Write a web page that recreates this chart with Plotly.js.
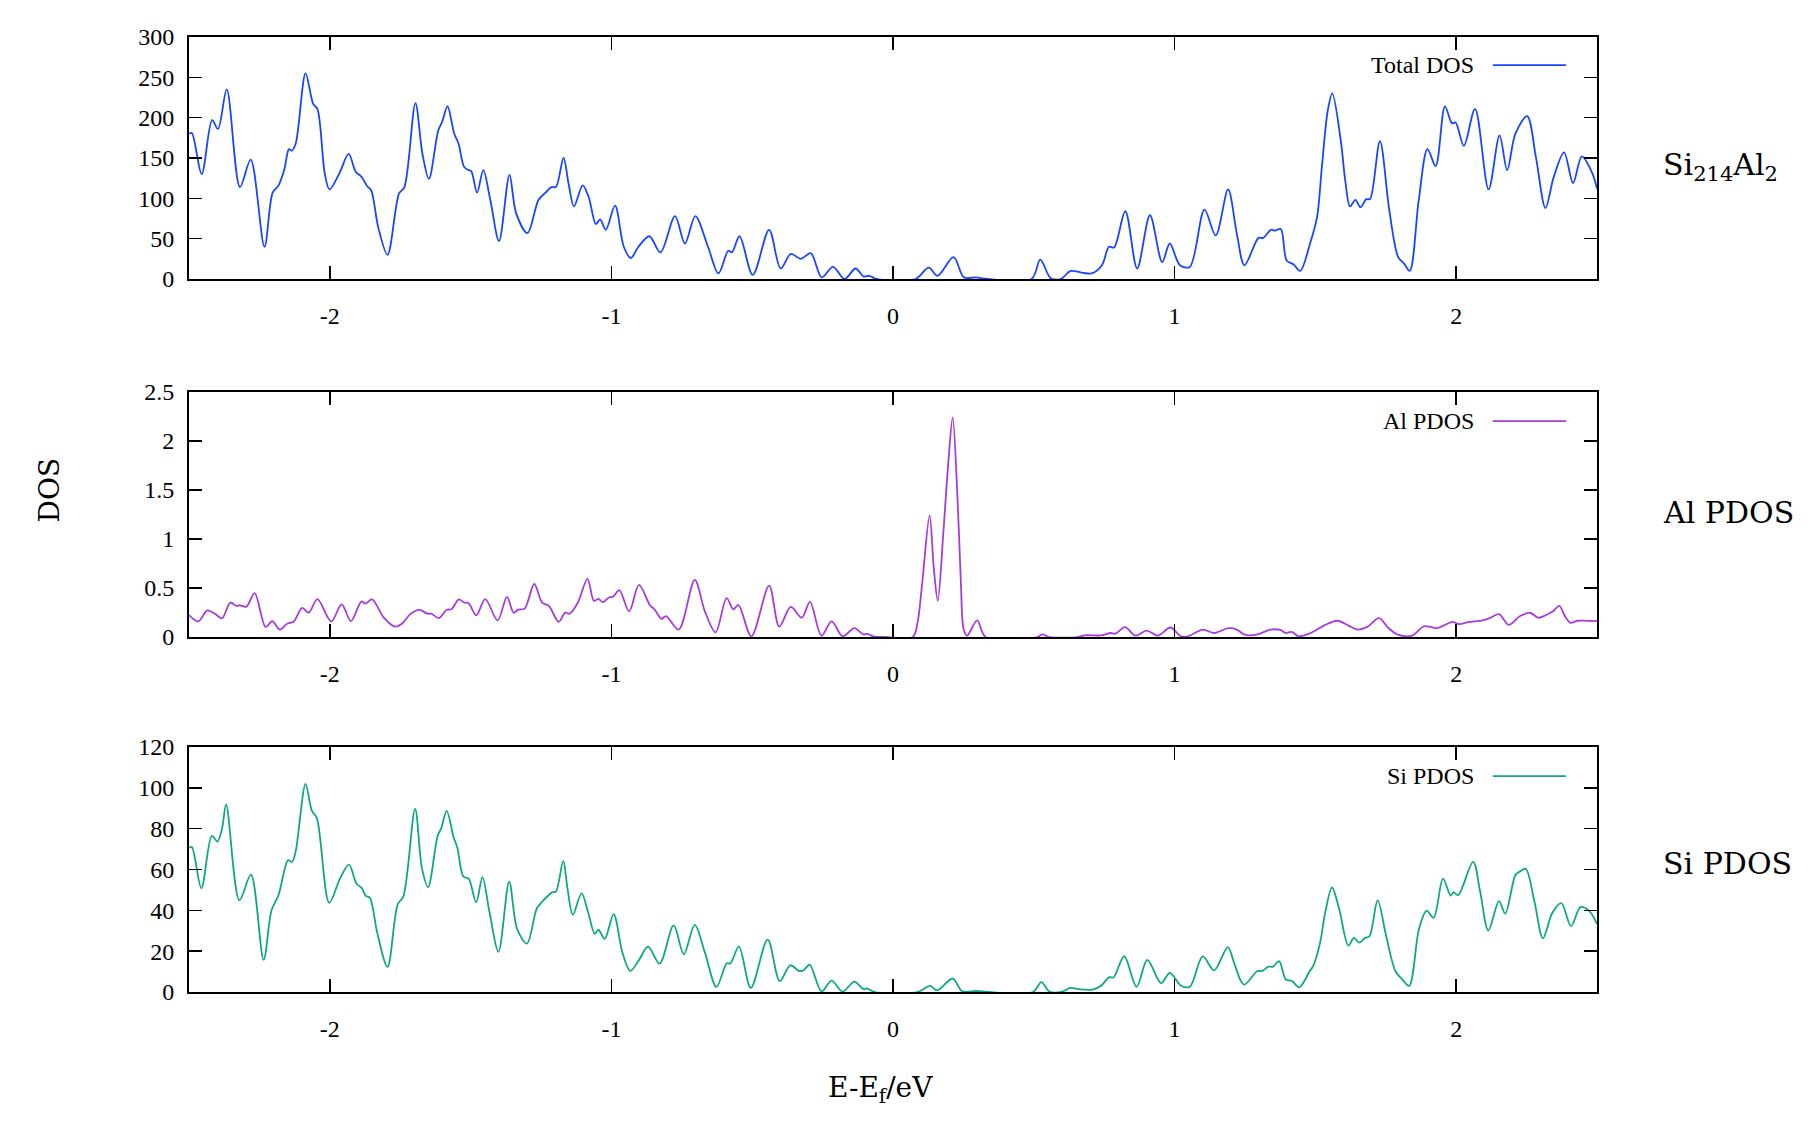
<!DOCTYPE html>
<html>
<head>
<meta charset="utf-8">
<script src="https://cdn.plot.ly/plotly-3.0.1.min.js"></script>
<style>
  html, body { margin: 0; padding: 0; background: #fff; }
  #chart { width: 1819px; height: 1127px; }
</style>
</head>
<body>
<div id="chart"></div>
<script>
// energies (eV, relative to Fermi level) and DOS values
const energyTotal = [-2.5,-2.49,-2.455,-2.418,-2.397,-2.366,-2.319,-2.281,-2.232,-2.203,-2.182,-2.162,-2.145,-2.135,-2.121,-2.086,-2.059,-2.044,-2.018,-2.001,-1.966,-1.933,-1.908,-1.888,-1.867,-1.853,-1.828,-1.795,-1.754,-1.735,-1.696,-1.671,-1.648,-1.615,-1.601,-1.582,-1.558,-1.543,-1.523,-1.508,-1.498,-1.477,-1.455,-1.43,-1.399,-1.362,-1.338,-1.298,-1.259,-1.234,-1.213,-1.197,-1.17,-1.152,-1.133,-1.102,-1.081,-1.055,-1.04,-1.02,-0.987,-0.956,-0.931,-0.904,-0.865,-0.826,-0.774,-0.739,-0.702,-0.657,-0.62,-0.585,-0.572,-0.545,-0.498,-0.44,-0.399,-0.363,-0.327,-0.292,-0.253,-0.213,-0.172,-0.133,-0.104,-0.084,-0.059,0.08,0.127,0.158,0.215,0.252,0.294,0.335,0.492,0.523,0.56,0.596,0.631,0.669,0.706,0.742,0.767,0.785,0.825,0.867,0.9125,0.956,0.983,1.019,1.054,1.106,1.146,1.19,1.221,1.248,1.298,1.315,1.342,1.356,1.377,1.398,1.423,1.446,1.481,1.506,1.523,1.544,1.56,1.59,1.606,1.623,1.642,1.66,1.681,1.694,1.729,1.7625,1.794,1.815,1.835,1.867,1.898,1.927,1.96,1.985,1.998,2.027,2.067,2.115,2.154,2.181,2.21,2.252,2.283,2.317,2.346,2.383,2.415,2.446,2.481,2.5];
const dosTotal = [180,181,130,197,186,235,114,148,40,107,116,135,161,159,168,255,217,211,131,111,131,155,133,127,115,110,64,30,106,114,218,155,124,184,195,214,180,168,139,135,134,107,135,98,47,129,81,57,98,107,114,114,150,118,90,116,102,68,74,61,91,40,26,40,53,33,78,44,78,40,7,35,33,53,5,61,13,31,25,32,2,15,0,13,3,4,0,0,14,4,27,2,2,0,0,24,1,0,10,8,7,17,40,39,84,13,79,21,44,17,15,86,54,111,56,17,51,51,61,60,62,23,18,10,44,77,139,209,230,172,122,90,98,89,99,99,171,85,27,19,10,98,161,140,214,193,194,165,211,111,178,135,180,202,151,88,126,157,119,152,133,112];

const energyAl = [-2.5,-2.467,-2.435,-2.405,-2.383,-2.353,-2.332,-2.321,-2.296,-2.267,-2.228,-2.204,-2.178,-2.15,-2.129,-2.098,-2.075,-2.044,-1.995,-1.958,-1.925,-1.888,-1.873,-1.85,-1.808,-1.77,-1.743,-1.715,-1.682,-1.653,-1.64,-1.612,-1.585,-1.568,-1.542,-1.523,-1.507,-1.48,-1.448,-1.404,-1.371,-1.347,-1.331,-1.308,-1.274,-1.246,-1.222,-1.187,-1.164,-1.148,-1.119,-1.085,-1.062,-1.046,-1.031,-1.01,-0.993,-0.972,-0.937,-0.902,-0.863,-0.847,-0.822,-0.806,-0.761,-0.704,-0.668,-0.63,-0.591,-0.567,-0.549,-0.503,-0.44,-0.404,-0.363,-0.324,-0.295,-0.254,-0.218,-0.179,-0.137,-0.106,-0.09,-0.07,-0.03,0.07,0.087,0.104,0.13,0.145,0.159,0.179,0.196,0.212,0.229,0.241,0.251,0.263,0.299,0.329,0.513,0.53,0.555,0.656,0.681,0.739,0.773,0.789,0.824,0.861,0.901,0.94,0.985,1.023,1.048,1.1,1.14,1.191,1.221,1.249,1.291,1.341,1.375,1.395,1.416,1.441,1.483,1.533,1.579,1.617,1.65,1.684,1.726,1.759,1.793,1.843,1.885,1.91,1.931,1.96,1.987,2.01,2.043,2.094,2.119,2.152,2.187,2.227,2.264,2.291,2.311,2.344,2.366,2.386,2.406,2.431,2.5];
const dosAl = [0.224,0.159,0.272,0.231,0.19,0.352,0.317,0.324,0.31,0.448,0.103,0.162,0.076,0.138,0.155,0.297,0.248,0.386,0.159,0.334,0.162,0.362,0.341,0.383,0.197,0.107,0.138,0.231,0.276,0.238,0.238,0.193,0.279,0.283,0.383,0.352,0.345,0.221,0.386,0.169,0.41,0.248,0.279,0.29,0.541,0.352,0.317,0.155,0.248,0.238,0.352,0.593,0.369,0.39,0.355,0.4,0.414,0.479,0.262,0.531,0.324,0.283,0.186,0.214,0.076,0.583,0.262,0.048,0.397,0.283,0.328,0.007,0.524,0.107,0.307,0.197,0.359,0.014,0.159,0.007,0.09,0.028,0.031,0.007,0,0,0.145,0.559,1.241,0.697,0.369,1.076,1.766,2.241,1.42,0.559,0.076,0.014,0.169,0,0,0.028,0,0,0.017,0.017,0.041,0.034,0.1,0.014,0.066,0.014,0.097,0.007,0.007,0.076,0.041,0.09,0.076,0.024,0.024,0.076,0.072,0.041,0.052,0.007,0.041,0.121,0.166,0.117,0.076,0.103,0.193,0.093,0.024,0.014,0.11,0.103,0.09,0.124,0.155,0.131,0.152,0.169,0.193,0.234,0.124,0.214,0.245,0.197,0.214,0.262,0.317,0.214,0.145,0.166,0.162];

const energySi = [-2.5,-2.49,-2.456,-2.419,-2.399,-2.383,-2.368,-2.321,-2.28,-2.235,-2.207,-2.182,-2.148,-2.134,-2.121,-2.086,-2.064,-2.046,-2.002,-1.963,-1.932,-1.906,-1.886,-1.873,-1.857,-1.832,-1.795,-1.759,-1.739,-1.697,-1.673,-1.651,-1.617,-1.604,-1.585,-1.56,-1.547,-1.526,-1.507,-1.48,-1.458,-1.433,-1.401,-1.363,-1.335,-1.3,-1.265,-1.246,-1.222,-1.21,-1.197,-1.171,-1.156,-1.137,-1.106,-1.083,-1.059,-1.046,-1.024,-0.992,-0.961,-0.933,-0.904,-0.87,-0.829,-0.779,-0.743,-0.704,-0.668,-0.627,-0.59,-0.578,-0.547,-0.505,-0.445,-0.402,-0.365,-0.334,-0.318,-0.296,-0.254,-0.218,-0.179,-0.137,-0.106,-0.09,-0.065,0.087,0.132,0.157,0.212,0.246,0.296,0.338,0.497,0.527,0.555,0.597,0.63,0.664,0.709,0.739,0.768,0.783,0.821,0.865,0.903,0.952,0.983,1.023,1.054,1.1,1.14,1.189,1.211,1.246,1.294,1.311,1.333,1.349,1.371,1.395,1.416,1.443,1.48,1.492,1.517,1.533,1.559,1.584,1.617,1.637,1.656,1.676,1.692,1.721,1.751,1.784,1.809,1.833,1.868,1.895,1.92,1.953,1.98,1.99,2.007,2.06,2.085,2.114,2.152,2.174,2.211,2.227,2.247,2.278,2.308,2.341,2.373,2.408,2.441,2.47,2.5];
const dosSi = [70.7,71,50.8,76.5,73.7,79.8,91.9,44.9,57.5,15.7,40,47.5,64.6,63.7,69,102,88.9,85.3,43.7,55.8,62.4,53.3,50.8,47.2,45.9,29.3,12.3,42.9,46.7,89.7,60.8,51.3,76.5,80.3,88.7,75.7,70.7,56.6,55.5,43.9,56.3,39.2,19.7,54.1,31,23.7,40.9,44.2,47.5,48.8,49.2,64.1,50.8,37.9,48.3,39.2,28.5,30.5,26,38.1,19.4,10.3,15.2,22.2,13.9,32.6,18.5,32.9,19.4,2.5,14.1,13.9,22.2,2,25.7,5.3,13.1,10.4,10.6,13.4,0.3,5.6,0.2,5.1,1.5,1.7,0,0,3,0.8,6.6,0.3,0.5,0,0,4.8,0.2,0,2,1.3,1.2,3.1,7.3,7.1,17.5,2.5,15.7,4.3,9.4,3.1,2.6,17.4,10.6,22,14.4,3.6,10.3,10.3,12.4,12.4,15.1,6.1,5.5,2.3,10.3,12.7,24.3,37.6,51.2,40.9,22.7,26.5,24.2,26.5,27.3,44.9,27.6,10.3,6.1,3,31,39.9,36.4,55.5,47.2,48.8,47.5,63.7,49.2,30.1,44.5,38.4,57.5,59.1,60.4,44.2,26.3,38.7,43.5,32.3,41.6,40.1,33.4];

const xTickVals = [-2, -1, 0, 1, 2];
const xTickText = ['-2', '-1', '0', '1', '2'];
const seriesNames = ['Total DOS', 'Al PDOS', 'Si PDOS'];
const panelLabels = ['Si<sub>214</sub>Al<sub>2</sub>', 'Al PDOS', 'Si PDOS'];

const colors = ['#1846ff', '#a63cdc', '#0fa882'];
const tickFont = { family: 'Liberation Serif, Times New Roman, serif', size: 24, color: '#000' };
const labelFont = { family: 'DejaVu Serif, serif', size: 30, color: '#000' };

const traces = [
  { x: energyTotal, y: dosTotal, xaxis: 'x', yaxis: 'y' },
  { x: energyAl, y: dosAl, xaxis: 'x2', yaxis: 'y2' },
  { x: energySi, y: dosSi, xaxis: 'x3', yaxis: 'y3' }
].map((t, i) => Object.assign(t, {
  type: 'scatter', mode: 'lines', name: seriesNames[i],
  line: { color: colors[i], width: 1.8, shape: 'spline', smoothing: 0.9 },
  hoverinfo: 'x+y'
}));

function xAxis(anchor) {
  return {
    anchor: anchor, range: [-2.5, 2.5], tickvals: xTickVals, ticktext: xTickText,
    ticks: 'inside', ticklen: 13, tickwidth: 1.5, tickcolor: '#000', mirror: 'ticks',
    showline: true, linewidth: 2, linecolor: '#000', showgrid: false, zeroline: false,
    tickfont: tickFont, ticklabelstandoff: 14
  };
}
function yAxis(anchor, domain, range, dtick) {
  return {
    anchor: anchor, domain: domain, range: range, dtick: dtick, tick0: 0,
    ticks: 'inside', ticklen: 13, tickwidth: 1.5, tickcolor: '#000', mirror: 'ticks',
    showline: true, linewidth: 2, linecolor: '#000', showgrid: false, zeroline: false,
    tickfont: tickFont, ticklabelstandoff: 8
  };
}

const domains = [[0.7466, 1], [0.3717, 0.6283], [0, 0.2565]];
const labelY = [0.864, 0.502, 0.135];
const keyY = [0.884, 0.881, 0.881];
const axisIds = ['', '2', '3'];

const annotations = [];
const shapes = [];
axisIds.forEach((id, i) => {
  annotations.push({
    xref: 'x' + id + ' domain', yref: 'y' + id + ' domain', x: 0.914, y: keyY[i],
    xanchor: 'right', yanchor: 'middle', text: seriesNames[i], showarrow: false,
    font: tickFont
  });
  shapes.push({
    type: 'line', xref: 'x' + id + ' domain', yref: 'y' + id + ' domain',
    x0: 0.926, x1: 0.978, y0: keyY[i], y1: keyY[i],
    line: { color: colors[i], width: 1.8 }
  });
  annotations.push({
    xref: 'paper', yref: 'paper', x: 1.0455, y: labelY[i], xanchor: 'left', yanchor: 'middle',
    text: panelLabels[i], showarrow: false, font: labelFont
  });
});
annotations.push({
  xref: 'paper', yref: 'paper', x: -0.112, y: 0.526, textangle: -90,
  text: 'DOS', showarrow: false, font: { family: 'DejaVu Serif, serif', size: 28, color: '#000' }
});
annotations.push({
  xref: 'paper', yref: 'paper', x: 0.491, y: -0.1025, yanchor: 'middle',
  text: 'E-E<sub>f</sub>/eV', showarrow: false,
  font: { family: 'DejaVu Serif, serif', size: 28, color: '#000' }
});

const layout = {
  width: 1819, height: 1127,
  margin: { l: 189, r: 222, t: 37, b: 135 },
  paper_bgcolor: '#fff', plot_bgcolor: '#fff',
  showlegend: false,
  xaxis: xAxis('y'), xaxis2: xAxis('y2'), xaxis3: xAxis('y3'),
  yaxis: yAxis('x', domains[0], [0, 300], 50),
  yaxis2: yAxis('x2', domains[1], [0, 2.5], 0.5),
  yaxis3: yAxis('x3', domains[2], [0, 120], 20),
  annotations: annotations,
  shapes: shapes
};

Plotly.newPlot('chart', traces, layout, { displayModeBar: false, staticPlot: true });
</script>
</body>
</html>
